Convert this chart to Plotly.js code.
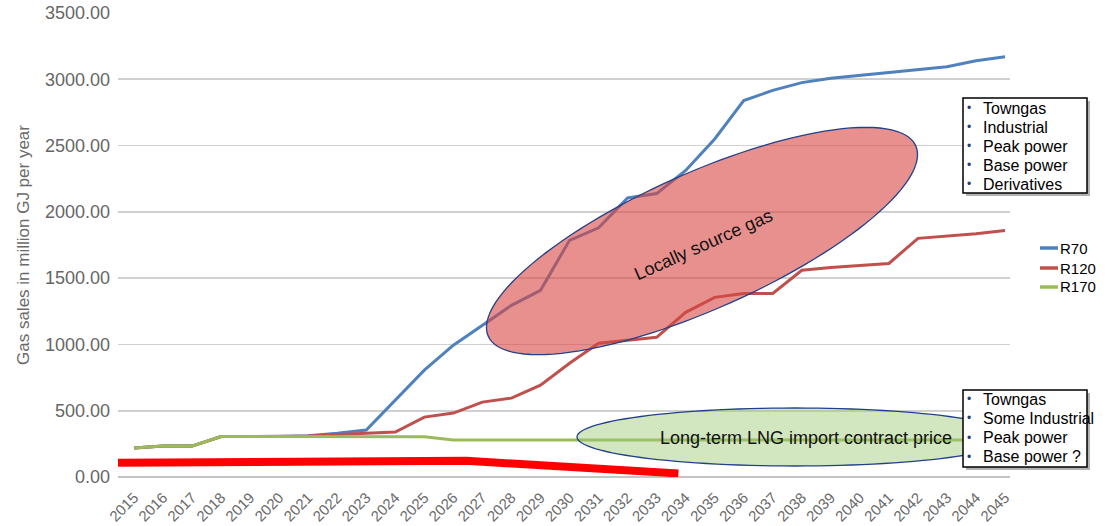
<!DOCTYPE html>
<html>
<head>
<meta charset="utf-8">
<script src="https://cdn.plot.ly/plotly-3.0.1.min.js"></script>
<style>html,body{margin:0;padding:0;background:#fff;}#chart{width:1115px;height:526px;}</style>
</head>
<body>
<div id="chart"></div>
<script>
// ---- data ----
const years = [2015,2016,2017,2018,2019,2020,2021,2022,2023,2024,2025,2026,2027,2028,2029,2030,2031,2032,2033,2034,2035,2036,2037,2038,2039,2040,2041,2042,2043,2044,2045];
const tickLabels = years.map(String);
const r70  = [218,233,233,305,305,305,312,330,354,580,806,994,1145,1295,1408,1785,1880,2105,2138,2312,2550,2840,2916,2975,3007,3030,3050,3075,3095,3140,3170];
const r120 = [218,233,233,305,305,305,310,320,331,339,452,482,565,595,693,858,1009,1032,1054,1242,1355,1385,1385,1559,1581,1595,1611,1800,1815,1835,1860];
const r170 = [218,233,233,305,305,305,305,305,305,305,303,280,280,282,280,280,280,280,280,280,280,280,280,280,280,280,280,280,280,280,280];
const lngX = [2014.45, 2026.45, 2033.75];
const lngY = [108, 122, 27];
const seriesNames = ['R70','R120','R170'];
const seriesColors = ['#4f81bd','#c0504d','#9bbb59'];
const box1Items = ['Towngas','Industrial','Peak power','Base power','Derivatives'];
const box2Items = ['Towngas','Some Industrial','Peak power','Base power ?'];

// ---- pixel -> paper helpers ----
const L = 118, R = 1010, T = 13, B = 477;
const px = x => (x - L) / (R - L);
const py = y => (B - y) / (B - T);

function ellipsePath(cx, cy, a, b, deg) {
  const th = deg * Math.PI / 180;
  let d = '';
  for (let i = 0; i <= 120; i++) {
    const t = i / 120 * 2 * Math.PI;
    const x = cx + a * Math.cos(t) * Math.cos(th) + b * Math.sin(t) * Math.sin(th);
    const y = cy - a * Math.cos(t) * Math.sin(th) + b * Math.sin(t) * Math.cos(th);
    d += (i ? 'L' : 'M') + px(x).toFixed(5) + ',' + py(y).toFixed(5);
  }
  return d + 'Z';
}

const seriesData = [r70, r120, r170];
const traces = [{
  x: lngX, y: lngY, type: 'scatter', mode: 'lines', name: 'LNG',
  line: {color: '#ff0000', width: 8}, hoverinfo: 'skip', showlegend: false
}];
seriesData.forEach((s, i) => traces.push({
  x: years, y: s, type: 'scatter', mode: 'lines', name: seriesNames[i],
  line: {color: seriesColors[i], width: 3}
}));

const shapes = [];
const annotations = [];

// ellipses
shapes.push({type: 'path', xref: 'paper', yref: 'paper', path: ellipsePath(702, 241, 234, 68, 24),
  fillcolor: 'rgba(215,70,65,0.6)', line: {color: '#23408a', width: 1.3}, layer: 'above'});
shapes.push({type: 'path', xref: 'paper', yref: 'paper', path: ellipsePath(795, 437, 218, 29, 0),
  fillcolor: 'rgba(155,200,115,0.45)', line: {color: '#23408a', width: 1.3}, layer: 'above'});

annotations.push({xref: 'paper', yref: 'paper', x: px(703), y: py(245), text: 'Locally source gas',
  showarrow: false, textangle: -24, font: {size: 18, color: '#111'}, xanchor: 'center', yanchor: 'middle'});
annotations.push({xref: 'paper', yref: 'paper', x: px(806), y: py(438), text: 'Long-term LNG import contract price',
  showarrow: false, font: {size: 18, color: '#111'}, xanchor: 'center', yanchor: 'middle'});

// text boxes
function addBox(x0, y0, x1, y1, items, firstY, step) {
  shapes.push({type: 'rect', xref: 'paper', yref: 'paper', x0: px(x0 + 3), x1: px(x1 + 3), y0: py(y0 + 3), y1: py(y1 + 3),
    fillcolor: 'rgba(0,0,0,0.3)', line: {width: 0}, layer: 'above'});
  shapes.push({type: 'rect', xref: 'paper', yref: 'paper', x0: px(x0), x1: px(x1), y0: py(y0), y1: py(y1),
    fillcolor: '#ffffff', line: {color: '#000', width: 1.5}, layer: 'above'});
  items.forEach((t, i) => {
    const yy = firstY + i * step;
    annotations.push({xref: 'paper', yref: 'paper', x: px(969), y: py(yy), text: '•', showarrow: false,
      font: {size: 12, color: '#1f3d7a'}, xanchor: 'center', yanchor: 'middle'});
    annotations.push({xref: 'paper', yref: 'paper', x: px(981), y: py(yy), text: t, showarrow: false,
      font: {size: 16, color: '#000'}, xanchor: 'left', yanchor: 'middle'});
  });
}
addBox(963, 98, 1087, 193, box1Items, 108, 19);
addBox(963, 390, 1087, 467, box2Items, 399, 19.3);

// legend (manual)
const legY = [248, 268, 287];
seriesNames.forEach((n, i) => {
  shapes.push({type: 'line', xref: 'paper', yref: 'paper', x0: px(1040), x1: px(1058), y0: py(legY[i]), y1: py(legY[i]),
    line: {color: seriesColors[i], width: 3.5}});
  annotations.push({xref: 'paper', yref: 'paper', x: px(1058), y: py(legY[i]), text: n, showarrow: false,
    font: {size: 15, color: '#000'}, xanchor: 'left', yanchor: 'middle'});
});

const layout = {
  width: 1115, height: 526,
  margin: {l: 118, r: 105, t: 13, b: 49, pad: 0},
  paper_bgcolor: '#fff', plot_bgcolor: '#fff',
  font: {family: 'Liberation Sans, Arial, sans-serif', color: '#666'},
  showlegend: false,
  xaxis: {
    type: 'linear', range: [2014.449, 2045.17], tickvals: years, ticktext: tickLabels,
    tickangle: -45, tickfont: {size: 15, color: '#6a6a6a'}, showgrid: false, zeroline: false,
    showline: false, ticks: '', ticklabelstandoff: 8
  },
  yaxis: {
    range: [0, 3500], dtick: 500, tick0: 0, tickformat: '.2f',
    tickfont: {size: 18, color: '#666'}, showgrid: true, gridcolor: '#d0d0d0', gridwidth: 1.6,
    zeroline: true, zerolinecolor: '#c4c4c4', zerolinewidth: 2, ticks: '', ticklabelstandoff: 7,
    title: {text: 'Gas sales in million GJ per year', font: {size: 17, color: '#6a6a6a'}, standoff: 10}
  },
  shapes: shapes,
  annotations: annotations
};

Plotly.newPlot('chart', traces, layout, {displayModeBar: false, staticPlot: true});
</script>
</body>
</html>
